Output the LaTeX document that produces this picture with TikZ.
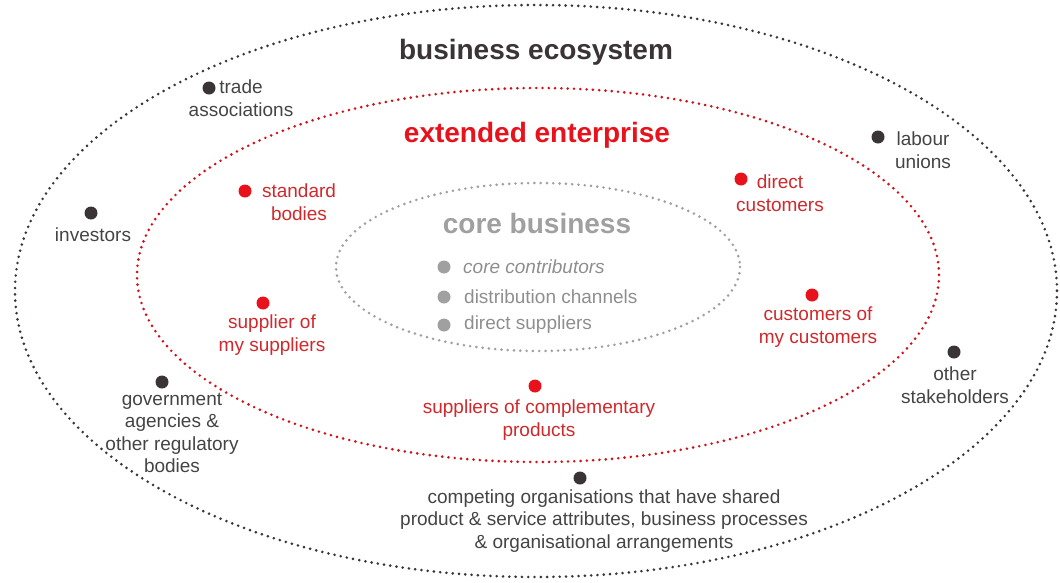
\documentclass[tikz,border=0pt]{standalone}
\usepackage{fontspec}
\setmainfont{Liberation Sans}
\begin{document}
\definecolor{ecoDark}{HTML}{3B3436}
\definecolor{ecoText}{HTML}{444444}
\definecolor{entRed}{HTML}{E8121C}
\definecolor{entText}{HTML}{D0282C}
\definecolor{coreGrey}{HTML}{A0A0A0}
\definecolor{coreText}{HTML}{8E8E8E}
\begin{tikzpicture}[x=1pt,y=-1pt,
  ring/.style={line width=2.9pt, line cap=round, dash pattern=on 0pt off 6.3pt},
  blob/.style={circle, inner sep=0pt, minimum size=13pt},
  darkdot/.style={blob, fill=ecoDark},
  reddot/.style={blob, fill=entRed},
  greydot/.style={blob, fill=coreGrey},
  title/.style={font=\fontsize{28}{32}\selectfont\bfseries, inner sep=0pt},
  lbl/.style={font=\fontsize{19}{22.5}\selectfont, align=center, inner sep=0pt},
  ecolbl/.style={lbl, text=ecoText},
  entlbl/.style={lbl, text=entText},
  corelbl/.style={lbl, text=coreText, anchor=west}]
\useasboundingbox (0,0) rectangle (1060,582);

% the three nested circles of the model
\draw[ring, ecoDark] (536,291) ellipse [x radius=521, y radius=286];
\draw[ring, entRed!90!black] (538,275) ellipse [x radius=401, y radius=187];
\draw[ring, coreGrey] (538,267) ellipse [x radius=202, y radius=84];

% headings
\node[title, text=ecoDark] (hEco) at (536,52) {business ecosystem};
\node[title, text=entRed] (hEnt) at (537,135) {extended enterprise};
\node[title, text=coreGrey] (hCore) at (537,223) {core business};

% core business members
\node[greydot] (dCore1) at (444,267) {};
\node[greydot] (dCore2) at (444,297) {};
\node[greydot] (dCore3) at (444,325) {};
\node[corelbl, font=\fontsize{19}{22.5}\selectfont\itshape] (tCore1) at (463,267) {core contributors};
\node[corelbl] (tCore2) at (464,297) {distribution channels};
\node[corelbl] (tCore3) at (464,325) {direct suppliers};

% extended enterprise members
\node[reddot] (dStd) at (245,191) {};
\node[entlbl] (tStd) at (299,202) {standard\\bodies};
\node[reddot] (dSos) at (263,303) {};
\node[entlbl] (tSos) at (272,335) {supplier of\\my suppliers};
\node[reddot] (dDir) at (741,179) {};
\node[entlbl] (tDir) at (780,193) {direct\\customers};
\node[reddot] (dCoc) at (812,295) {};
\node[entlbl] (tCoc) at (818,327) {customers of\\my customers};
\node[reddot] (dComp) at (535,386) {};
\node[entlbl] (tComp) at (539,420) {suppliers of complementary\\products};

% business ecosystem members
\node[darkdot] (dTrade) at (209,88) {};
\node[ecolbl] (tTrade) at (241,98) {trade\\associations};
\node[darkdot] (dLab) at (878,137) {};
\node[ecolbl] (tLab) at (923,150) {labour\\unions};
\node[darkdot] (dInv) at (91,213) {};
\node[ecolbl] (tInv) at (93,235) {investors};
\node[darkdot] (dGov) at (162,382) {};
\node[ecolbl] (tGov) at (172,433) {government\\agencies \&\\other regulatory\\bodies};
\node[darkdot] (dOth) at (954,352) {};
\node[ecolbl] (tOth) at (955,385) {other\\stakeholders};
\node[darkdot] (dRiv) at (580,478) {};
\node[ecolbl] (tRiv) at (604,521) {competing organisations that have shared\\product \& service attributes, business processes\\\& organisational arrangements};
\end{tikzpicture}
\end{document}
